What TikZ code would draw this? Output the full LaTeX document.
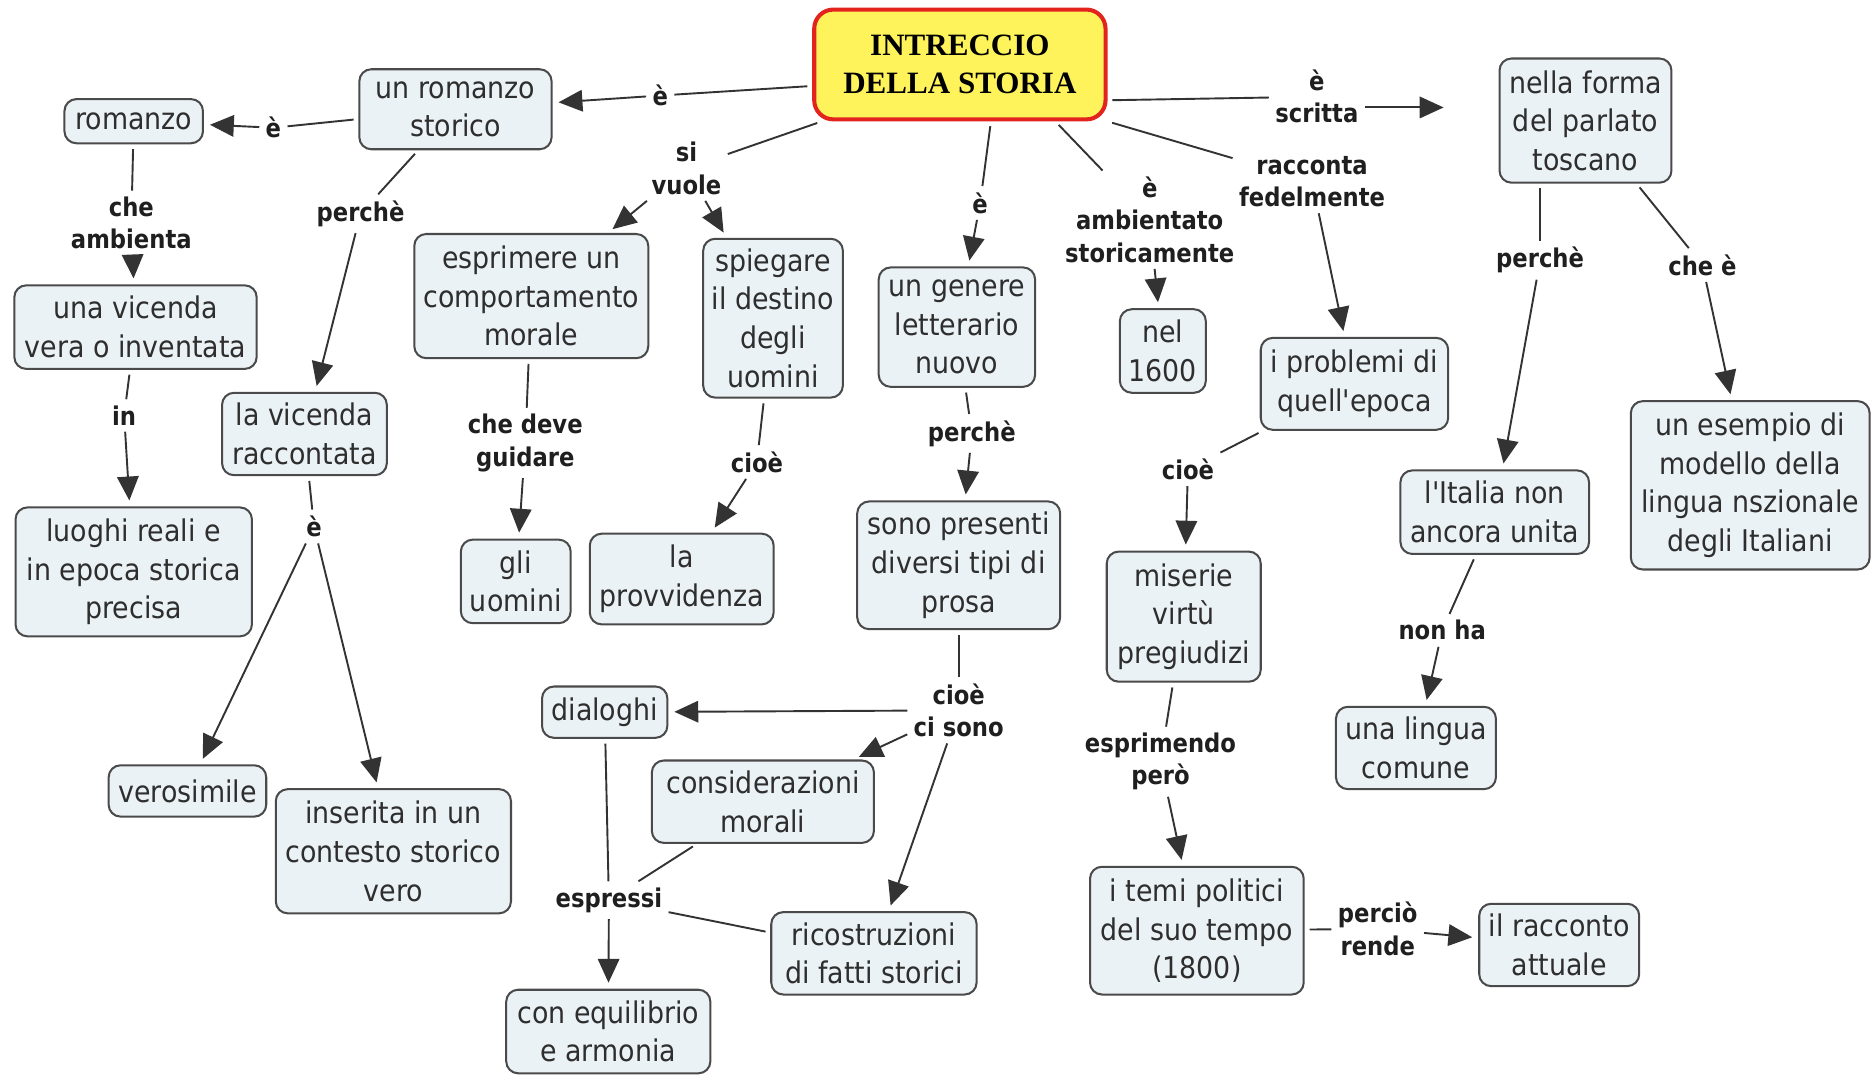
\documentclass[tikz,border=0pt]{standalone}
\usepackage{fontspec}
\setmainfont{DejaVu Sans}[FakeStretch=0.9, Ligatures=TeXOff]
\newfontfamily\labfont{DejaVu Sans}[FakeStretch=0.88]
\newfontfamily\titfont{Liberation Serif}
\usetikzlibrary{arrows.meta,calc}
\definecolor{boxfill}{HTML}{EBF2F5}
\definecolor{boxline}{HTML}{4A4A4A}
\definecolor{txt}{HTML}{2E2E2E}
\definecolor{titfill}{HTML}{FFF35C}
\definecolor{titline}{HTML}{E3241E}
\tikzset{
 cbox/.style={draw=boxline, fill=boxfill, line width=0.85pt, rounded corners=5pt, align=center, inner sep=2pt, text=txt, font=\fontsize{12.5}{16.2}\selectfont},
 wh/.style 2 args={minimum width=#1*0.5pt, minimum height=#2*0.5pt},
 lab/.style={align=center, inner sep=2.5pt, text=black!88, font=\labfont\fontsize{10.8}{13.5}\selectfont\bfseries},
 ln/.style={draw=black!80, line width=0.8pt, shorten <=2pt},
 arr/.style={draw=black!80, line width=0.8pt, -{Triangle[length=10pt,width=9pt]}, shorten >=2.5pt},
}
\begin{document}
\begin{tikzpicture}[x=0.5pt,y=-0.5pt]
\fill[white] (0,0) rectangle (1568,900);
\useasboundingbox (0,0) rectangle (1568,900);
% title
\node[draw=titline, fill=titfill, line width=1.7pt, rounded corners=8pt, align=center, wh={244}{92}, font=\titfont\fontsize{13}{16}\selectfont\bfseries] (title) at (804,54) {INTRECCIO\\DELLA STORIA};
% concept boxes
\node[cbox, wh={161}{67}] (rs) at (381.5,91.5) {un romanzo\\storico};
\node[cbox, wh={116}{37}] (rom) at (112,101.5) {romanzo};
\node[cbox, wh={203}{70}] (vic) at (113.5,274) {una vicenda\\vera o inventata};
\node[cbox, wh={198}{108}] (luo) at (112,479) {luoghi reali e\\in epoca storica\\precisa};
\node[cbox, wh={138}{69}] (lvr) at (255,363.5) {la vicenda\\raccontata};
\node[cbox, wh={132}{43}] (ver) at (157,662.5) {verosimile};
\node[cbox, wh={197}{104}] (ins) at (329.5,713) {inserita in un\\contesto storico\\vero};
\node[cbox, wh={196}{104}] (esp) at (445,248) {esprimere un\\comportamento\\morale};
\node[cbox, wh={92}{70}] (gli) at (432,487) {gli\\uomini};
\node[cbox, wh={117}{133}] (spi) at (647.5,266.5) {spiegare\\il destino\\degli\\uomini};
\node[cbox, wh={154}{76}] (pro) at (571,485) {la\\provvidenza};
\node[cbox, wh={131}{100}] (gen) at (801.5,274) {un genere\\letterario\\nuovo};
\node[cbox, wh={170}{107}] (son) at (803,473.5) {sono presenti\\diversi tipi di\\prosa};
\node[cbox, wh={105}{43}] (dia) at (506.5,596.5) {dialoghi};
\node[cbox, wh={186}{69}] (con) at (639,671.5) {considerazioni\\morali};
\node[cbox, wh={172}{69}] (ric) at (732,798.5) {ricostruzioni\\di fatti storici};
\node[cbox, wh={171}{70}] (equ) at (509.5,864) {con equilibrio\\e armonia};
\node[cbox, wh={72}{70}] (nel) at (974,294) {nel\\1600};
\node[cbox, wh={157}{77}] (prb) at (1134.5,321.5) {i problemi di\\quell'epoca};
\node[cbox, wh={129}{109}] (mis) at (991.5,516.5) {miserie\\virtù\\pregiudizi};
\node[cbox, wh={179}{107}] (tem) at (1002.5,779.5) {i temi politici\\del suo tempo\\(1800)};
\node[cbox, wh={134}{69}] (rac) at (1306,791.5) {il racconto\\attuale};
\node[cbox, wh={144}{104}] (for) at (1328,101) {nella forma\\del parlato\\toscano};
\node[cbox, wh={158}{70}] (ita) at (1252,429) {l'Italia non\\ancora unita};
\node[cbox, wh={134}{69}] (lin) at (1186,626.5) {una lingua\\comune};
\node[cbox, wh={200}{141}] (ese) at (1466,406.5) {un esempio di\\modello della\\lingua nszionale\\degli Italiani};
% labels
\node[lab] (l1) at (553,80) {è};
\node[lab] (l2) at (229,107) {è};
\node[lab] (l3) at (110,187) {che\\ambienta};
\node[lab] (l4) at (302,179) {perchè};
\node[lab] (l5) at (104,348) {in};
\node[lab] (l6) at (263,441) {è};
\node[lab] (l7) at (575,141) {si\\vuole};
\node[lab] (l8) at (440,371) {che deve\\guidare};
\node[lab] (l9) at (634,387) {cioè};
\node[lab] (l10) at (821,170) {è};
\node[lab] (l11) at (814,363) {perchè};
\node[lab] (l12) at (803,595) {cioè\\ci sono};
\node[lab] (l13) at (510,754) {espressi};
\node[lab] (l14) at (963,184) {è\\ambientato\\storicamente};
\node[lab] (l15) at (1099,152) {racconta\\fedelmente};
\node[lab] (l16) at (1103,81) {è\\scritta};
\node[lab] (l17) at (995,393) {cioè};
\node[lab] (l18) at (972,638) {esprimendo\\però};
\node[lab] (l19) at (1154,778) {perciò\\rende};
\node[lab] (l20) at (1290,218) {perchè};
\node[lab] (l21) at (1426,222) {che è};
\node[lab] (l22) at (1208,528) {non ha};
% connectors
\draw[ln] ([yshift=-9pt]title.west) -- (l1);
\draw[arr] (l1) -- (rs);
\draw[ln] (rs) -- (l2);
\draw[arr] (l2) -- (rom);
\draw[ln] (rom) -- (l3);
\draw[arr] (l3) -- (vic);
\draw[ln] (vic) -- (l5);
\draw[arr] (l5) -- (luo);
\draw[ln] (rs) -- (l4);
\draw[arr] (l4) -- (lvr);
\draw[ln] (lvr) -- (l6);
\draw[arr] (l6) -- (ver);
\draw[arr] (l6) -- (ins);
\draw[ln] ([xshift=4pt]title.south west) -- (l7);
\draw[arr] (l7) -- (esp);
\draw[arr] (l7) -- (spi);
\draw[ln] (esp) -- (l8);
\draw[arr] (l8) -- (gli);
\draw[ln] (spi) -- (l9);
\draw[arr] (l9) -- (pro);
\draw[ln] ([xshift=13pt]title.south) -- (l10);
\draw[arr] (l10) -- (gen);
\draw[ln] (gen) -- (l11);
\draw[arr] (l11) -- (son);
\draw[ln] (son) -- (l12);
\draw[arr] (l12) -- (dia);
\draw[arr] (l12) -- (con);
\draw[arr] (l12) -- (ric);
\draw[ln] (dia) -- (l13);
\draw[ln] (con) -- (l13);
\draw[ln] (ric) -- (l13);
\draw[arr] (l13) -- (equ);
\draw[ln] ([xshift=40pt]title.south) -- (l14);
\draw[arr] (l14) -- (nel);
\draw[ln] (title.south east) -- (l15);
\draw[arr] (l15) -- (prb);
\draw[ln] ([yshift=-15pt]title.east) -- (l16);
\draw[arr, shorten >=23pt] ($(l16.east)+(0,9)$) -- ($(for.west |- l16.east)+(0,9)$);
\draw[ln] (prb) -- (l17);
\draw[arr] (l17) -- (mis);
\draw[ln] (mis) -- (l18);
\draw[arr] (l18) -- (tem);
\draw[ln] (tem) -- (l19);
\draw[arr] (l19) -- (rac);
\draw[ln] ([xshift=-19pt]for.south) -- (l20);
\draw[arr] (l20) -- (ita);
\draw[ln] (for) -- (l21);
\draw[arr] (l21) -- (ese);
\draw[ln] (ita) -- (l22);
\draw[arr] (l22) -- (lin);
\end{tikzpicture}
\end{document}
